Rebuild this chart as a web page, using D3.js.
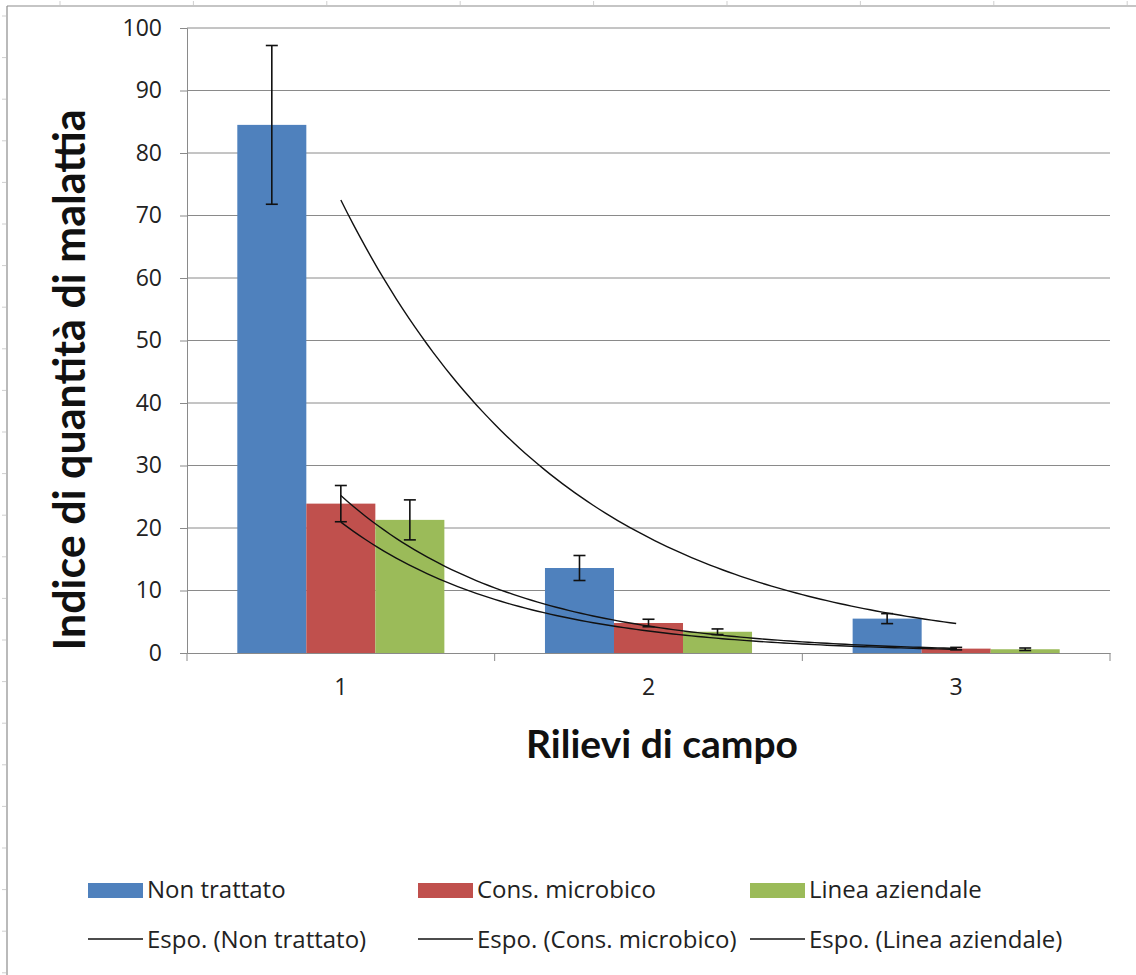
<!DOCTYPE html>
<html>
<head>
<meta charset="utf-8">
<script src="https://cdn.jsdelivr.net/npm/d3@7"></script>
<style>
  html, body { margin: 0; padding: 0; background: #fff; }
  svg { display: block; font-family: Lato, "Open Sans", sans-serif; }
</style>
</head>
<body>
<svg id="chart" width="1136" height="975"></svg>
<script>
// ---- data ----
const categories = ["1", "2", "3"];
const seriesNames = ["Non trattato", "Cons. microbico", "Linea aziendale"];
const nonTrattato = [84.5, 13.6, 5.5];
const consMicrobico = [23.9, 4.8, 0.7];
const lineaAziendale = [21.3, 3.4, 0.6];
const errNonTrattato = [12.7, 2.0, 0.8];
const errConsMicrobico = [2.9, 0.6, 0.2];
const errLineaAziendale = [3.2, 0.45, 0.2];
const yTicks = [0, 10, 20, 30, 40, 50, 60, 70, 80, 90, 100];
const trendLabels = ["Espo. (Non trattato)", "Espo. (Cons. microbico)", "Espo. (Linea aziendale)"];
const colors = ["#4F81BD", "#C0504D", "#9BBB59"];

const seriesValues = [nonTrattato, consMicrobico, lineaAziendale];
const seriesErrors = [errNonTrattato, errConsMicrobico, errLineaAziendale];

const svg = d3.select("#chart");
const W = 1136, H = 975;
const plot = { left: 187, right: 1110, top: 28, bottom: 653 };

// frame decorations
const deco = svg.append("g");
deco.append("line").attr("x1", 7).attr("x2", W).attr("y1", 6).attr("y2", 6)
  .attr("stroke", "#8c8c8c").attr("stroke-width", 1.2);
deco.append("line").attr("x1", 7).attr("x2", 7).attr("y1", 6).attr("y2", H)
  .attr("stroke", "#8c8c8c").attr("stroke-width", 1.2);
for (let y = 16; y < H; y += 41.6) {
  deco.append("line").attr("x1", 2).attr("x2", 6).attr("y1", y).attr("y2", y)
    .attr("stroke", "#cfcfcf").attr("stroke-width", 1);
}
for (let x = 60; x < W; x += 133.4) {
  deco.append("line").attr("x1", x).attr("x2", x).attr("y1", 1).attr("y2", 5)
    .attr("stroke", "#cfcfcf").attr("stroke-width", 1);
}

// scales
const y = d3.scaleLinear().domain([0, 100]).range([plot.bottom, plot.top]);
const x0 = d3.scaleBand().domain(categories).range([plot.left, plot.right]).padding(0);
const step = x0.bandwidth();
const groupW = step * 0.673;
const x1 = d3.scaleBand().domain(seriesNames)
  .range([(step - groupW) / 2, (step + groupW) / 2]).padding(0);

// gridlines
svg.append("g").selectAll("line").data(yTicks.filter(d => d > 0)).join("line")
  .attr("x1", plot.left).attr("x2", plot.right)
  .attr("y1", d => y(d)).attr("y2", d => y(d))
  .attr("stroke", "#8a8a8a").attr("stroke-width", 1);

// y axis
const yAxis = svg.append("g").attr("transform", `translate(${plot.left},0)`)
  .call(d3.axisLeft(y).tickValues(yTicks).tickSize(7).tickPadding(18));
yAxis.select(".domain").attr("stroke", "#8a8a8a");
yAxis.selectAll(".tick line").attr("stroke", "#8a8a8a");
yAxis.selectAll(".tick text").attr("font-size", 23).attr("fill", "#222")
  .attr("font-family", "'Open Sans', sans-serif");

// x axis
const xAxis = svg.append("g").attr("transform", `translate(0,${plot.bottom})`)
  .call(d3.axisBottom(x0).tickSize(0).tickPadding(26));
xAxis.select(".domain").attr("stroke", "#8a8a8a");
xAxis.selectAll(".tick text").attr("font-size", 23).attr("fill", "#222")
  .attr("font-family", "'Open Sans', sans-serif");
const boundaries = categories.map(c => x0(c)).concat([x0(categories[categories.length - 1]) + step]);
svg.append("g").selectAll("line").data(boundaries).join("line")
  .attr("x1", d => d).attr("x2", d => d)
  .attr("y1", plot.bottom).attr("y2", plot.bottom + 8)
  .attr("stroke", "#8a8a8a");

// bars
const barsG = svg.append("g");
seriesNames.forEach((s, si) => {
  barsG.append("g").selectAll("rect").data(categories).join("rect")
    .attr("x", c => x0(c) + x1(s))
    .attr("width", x1.bandwidth())
    .attr("y", (c, i) => y(seriesValues[si][i]))
    .attr("height", (c, i) => y(0) - y(seriesValues[si][i]))
    .attr("fill", colors[si]);
});

// trendlines (exponential least squares fit on ln y, x = 1..n)
const xt = d3.scaleLinear().domain([1, categories.length])
  .range([x0(categories[0]) + step / 2, x0(categories[categories.length - 1]) + step / 2]);
function expFit(vals) {
  const xs = vals.map((v, i) => i + 1);
  const ls = vals.map(v => Math.log(v));
  const mx = d3.mean(xs), ml = d3.mean(ls);
  const b = d3.sum(xs.map((xv, i) => (xv - mx) * (ls[i] - ml))) / d3.sum(xs.map(xv => (xv - mx) ** 2));
  const a = Math.exp(ml - b * mx);
  return t => a * Math.exp(b * t);
}
const line = d3.line().x(d => xt(d[0])).y(d => y(d[1])).curve(d3.curveLinear);
seriesValues.forEach(vals => {
  const f = expFit(vals);
  const pts = d3.range(1, categories.length + 0.0001, 0.02).map(t => [t, f(t)]);
  svg.append("path").attr("d", line(pts)).attr("fill", "none")
    .attr("stroke", "#111").attr("stroke-width", 1.4);
});

// error bars
const errG = svg.append("g").attr("stroke", "#111").attr("stroke-width", 1.6);
seriesNames.forEach((s, si) => {
  categories.forEach((c, i) => {
    const cx = x0(c) + x1(s) + x1.bandwidth() / 2;
    const v = seriesValues[si][i], e = seriesErrors[si][i];
    const yt = y(v + e), yb = y(v - e);
    errG.append("line").attr("x1", cx).attr("x2", cx).attr("y1", yt).attr("y2", yb);
    errG.append("line").attr("x1", cx - 6).attr("x2", cx + 6).attr("y1", yt).attr("y2", yt);
    errG.append("line").attr("x1", cx - 6).attr("x2", cx + 6).attr("y1", yb).attr("y2", yb);
  });
});

// axis titles
svg.append("text").attr("transform", `translate(85,380) rotate(-90)`)
  .attr("text-anchor", "middle").attr("font-size", 43).attr("font-weight", "bold")
  .attr("fill", "#111").text("Indice di quantità di malattia");
svg.append("text").attr("x", 662).attr("y", 758)
  .attr("text-anchor", "middle").attr("font-size", 39).attr("font-weight", "bold")
  .attr("fill", "#111").text("Rilievi di campo");

// legend
const legendX = [88, 418, 750];
const leg = svg.append("g").attr("font-size", 24).attr("fill", "#222")
  .attr("font-family", "'Open Sans', sans-serif");
seriesNames.forEach((s, i) => {
  leg.append("rect").attr("x", legendX[i]).attr("y", 883).attr("width", 55).attr("height", 15)
    .attr("fill", colors[i]);
  leg.append("text").attr("x", legendX[i] + 59).attr("y", 898).text(s);
  leg.append("line").attr("x1", legendX[i]).attr("x2", legendX[i] + 55)
    .attr("y1", 939).attr("y2", 939).attr("stroke", "#111").attr("stroke-width", 1.4);
  leg.append("text").attr("x", legendX[i] + 59).attr("y", 948).text(trendLabels[i]);
});
</script>
</body>
</html>
